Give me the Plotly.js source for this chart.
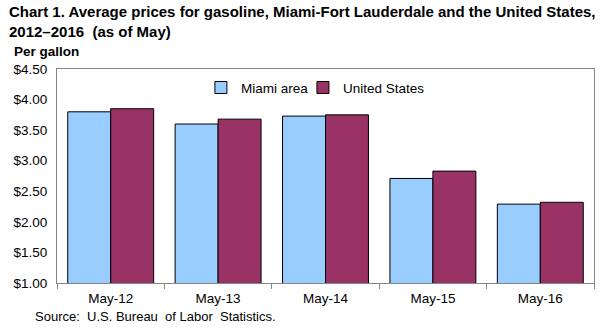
<!DOCTYPE html>
<html>
<head>
<meta charset="utf-8">
<script src="https://cdn.plot.ly/plotly-3.0.1.min.js"></script>
<style>html,body{margin:0;padding:0;background:#fff;}#chart{width:601px;height:335px;}</style>
</head>
<body>
<div id="chart"></div>
<script>
const categories = ["May-12", "May-13", "May-14", "May-15", "May-16"];
const miamiValues = [3.80, 3.60, 3.73, 2.71, 2.29];
const usValues = [3.85, 3.68, 3.75, 2.83, 2.32];
const seriesNames = ["Miami area", "United States"];

const FONT = "Liberation Sans, Arial, sans-serif";

const traces = [
  {type: "bar", name: seriesNames[0], x: categories, y: miamiValues, legend: "legend",
   marker: {color: "#99CCFF", line: {color: "#000000", width: 1}}},
  {type: "bar", name: seriesNames[1], x: categories, y: usValues, legend: "legend2",
   marker: {color: "#993366", line: {color: "#000000", width: 1}}}
];

const legendStyle = {orientation: "h", xanchor: "left", y: 0.985, yanchor: "top",
  font: {family: FONT, size: 13.5, color: "#000"}, bgcolor: "rgba(0,0,0,0)"};

const layout = {
  width: 601, height: 335,
  margin: {l: 57, r: 7, t: 69, b: 52, pad: 0},
  paper_bgcolor: "#ffffff", plot_bgcolor: "#ffffff",
  font: {family: FONT, size: 13.5, color: "#000000"},
  barmode: "group", bargap: 0.2, bargroupgap: 0,
  showlegend: true,
  legend: Object.assign({}, legendStyle, {x: 0.268}),
  legend2: Object.assign({}, legendStyle, {x: 0.458}),
  xaxis: {type: "category", showline: true, linecolor: "#868686", linewidth: 1, mirror: true,
          ticks: "outside", tickson: "boundaries", ticklen: 5, tickcolor: "#868686",
          ticklabelstandoff: 3,
          showgrid: false, zeroline: false, tickfont: {family: FONT, size: 13.5}},
  yaxis: {range: [1, 4.5], dtick: 0.5, tick0: 1, tickprefix: "$", tickformat: ".2f",
          showline: true, linecolor: "#868686", linewidth: 1, mirror: true,
          ticks: "", showgrid: false, zeroline: false, tickfont: {family: FONT, size: 13.5},
          ticklabelstandoff: 6, fixedrange: true},
  annotations: [
    {text: "<b>Chart 1. Average prices for gasoline, Miami-Fort Lauderdale and the United States,<br>2012–2016  (as of May)</b>",
     xref: "paper", yref: "paper", x: -57/537, y: 1 + 69/214, xanchor: "left", yanchor: "top",
     xshift: 7, yshift: -1, align: "left", showarrow: false,
     font: {family: FONT, size: 15, color: "#000"}},
    {text: "<b>Per gallon</b>", xref: "paper", yref: "paper", x: -57/537, y: 1 + 69/214,
     xanchor: "left", yanchor: "top", xshift: 12, yshift: -42, showarrow: false,
     font: {family: FONT, size: 13.5, color: "#000"}},
    {text: "Source:  U.S. Bureau  of Labor  Statistics.", xref: "paper", yref: "paper",
     x: -57/537, y: 0, xanchor: "left", yanchor: "top", xshift: 33, yshift: -24,
     showarrow: false, font: {family: FONT, size: 13, color: "#000"}}
  ]
};

Plotly.newPlot("chart", traces, layout, {displayModeBar: false, staticPlot: true});
</script>
</body>
</html>
